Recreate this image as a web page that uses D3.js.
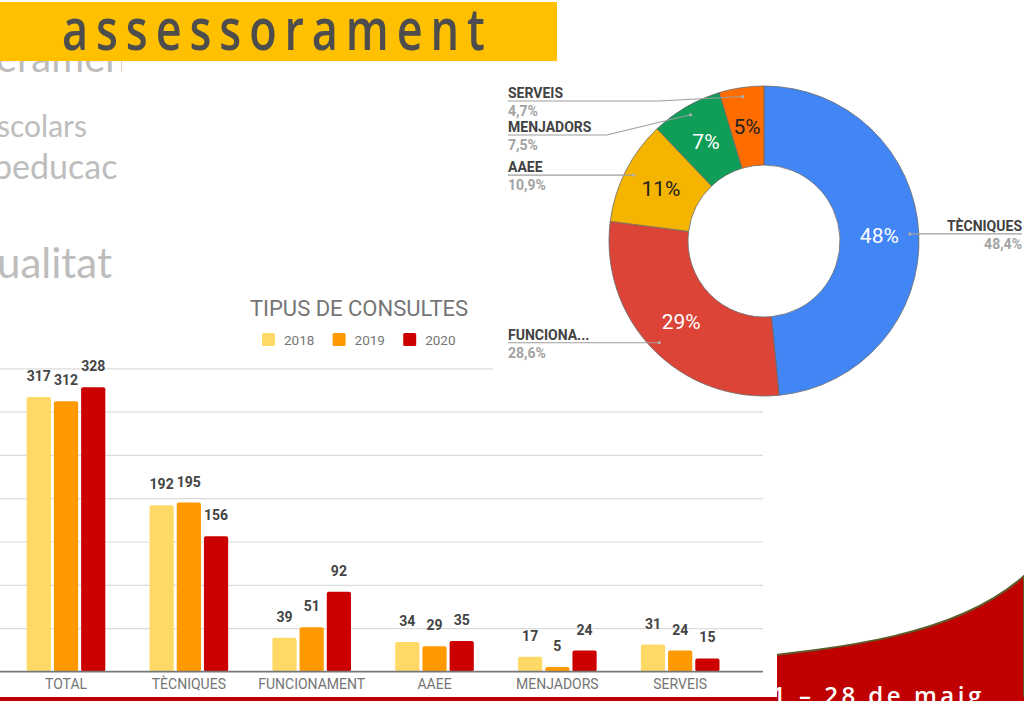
<!DOCTYPE html>
<html><head><meta charset="utf-8">
<script src="https://cdn.jsdelivr.net/npm/d3@7/dist/d3.min.js"></script>
<style>
html,body{margin:0;padding:0;background:#fff;overflow:hidden}
svg{display:block}
text{font-family:Roboto,"Noto Sans",sans-serif}
</style>
</head><body>
<svg id="c" width="1024" height="701"></svg>
<script>
// ---------------- data ----------------
const categories = ["TOTAL","TÈCNIQUES","FUNCIONAMENT","AAEE","MENJADORS","SERVEIS"];
const years = ["2018","2019","2020"];
const values2018 = [317,192,39,34,17,31];
const values2019 = [312,195,51,29,5,24];
const values2020 = [328,156,92,35,24,15];
const yTicks = [0,50,100,150,200,250,300,350];
const chartTitle = "TIPUS DE CONSULTES";
const slideTitle = "assessorament";
const fadedWords = ["erament","scolars","peducac","ualitat"];
const dateText = "1 – 28 de maig";
// pie: 2020 breakdown (all categories except TOTAL)
const pieCategories = categories.slice(1);
const pieValues = values2020.slice(1);

// ---------------- styles ----------------
const yearColors = ["#FFD966","#FF9900","#CC0000"];
const pieColors = ["#4285F4","#DB4437","#F4B400","#0F9D58","#FF6D01"];

const svg = d3.select("#c");
const defs = svg.append("defs");
defs.append("clipPath").attr("id","leftclip")
  .append("rect").attr("x",0).attr("y",0).attr("width",122).attr("height",300);

// ---------------- slide background pieces ----------------
const fadedLayout = [
  {x:-4, y:72, size:40},
  {x:-3, y:137, size:30},
  {x:-7, y:179, size:34},
  {x:-3, y:278, size:42}
];
const fg = svg.append("g").attr("clip-path","url(#leftclip)");
fg.selectAll("text").data(fadedWords).join("text")
  .attr("x",(d,i)=>fadedLayout[i].x).attr("y",(d,i)=>fadedLayout[i].y)
  .style("font-family","Lato, 'Open Sans', sans-serif")
  .style("font-size",(d,i)=>fadedLayout[i].size+"px")
  .attr("fill","#bdbdbd").text(d=>d);

// yellow banner
svg.append("rect").attr("x",0).attr("y",2).attr("width",557).attr("height",59).attr("fill","#FFC000");
svg.append("text")
  .attr("transform","translate(62,50) scale(0.79,1)")
  .style("font-family","'Open Sans', sans-serif").style("font-weight","600")
  .style("font-size","57px").style("letter-spacing","10px")
  .attr("fill","#4d4d4d").text(slideTitle);

// red wave bottom right
svg.append("path")
  .attr("d","M700,663 C820,650 950,642 1024,576 L1024,701 L700,701 Z")
  .attr("fill","#C00000").attr("stroke","#5f5a2a").attr("stroke-width",2);
svg.append("rect").attr("x",0).attr("y",697).attr("width",1024).attr("height",4).attr("fill","#C00000");
svg.append("text").attr("x",772).attr("y",704)
  .style("font-family","'Open Sans', sans-serif").style("font-size","24px").style("font-weight","600")
  .style("letter-spacing","3.5px").attr("fill","#ffffff").text(dateText);

// ---------------- bar chart ----------------
svg.append("rect").attr("x",0).attr("y",288).attr("width",777).attr("height",409).attr("fill","#fff");
const bar = svg.append("g");
const x0 = d3.scaleBand().domain(categories).range([4.6,741.6]).paddingInner(0.36).paddingOuter(0.18);
const x1 = d3.scaleBand().domain(years).range([0,x0.bandwidth()]).paddingInner(0.11);
const y = d3.scaleLinear().domain([0,350]).range([671.4,368.3]);

const grid = d3.axisLeft(y).tickValues(yTicks).tickSize(-763).tickFormat("");
const gg = bar.append("g").call(grid);
gg.select(".domain").remove();
gg.selectAll(".tick line").attr("stroke",(d)=>d===0?"#777":"#dcdcdc").attr("stroke-width",(d)=>d===0?1.3:1.2);

const series = [values2018, values2019, values2020];
const rows = categories.map((c,i)=>({cat:c, vals:years.map((yr,j)=>({year:yr, j, v:series[j][i]}))}));
const groups = bar.selectAll("g.grp").data(rows).join("g").attr("class","grp")
  .attr("transform",d=>`translate(${x0(d.cat)},0)`);
groups.selectAll("rect").data(d=>d.vals).join("rect")
  .attr("x",d=>x1(d.year)).attr("width",x1.bandwidth())
  .attr("y",d=>y(d.v)).attr("height",d=>y(0)-y(d.v))
  .attr("rx",2).attr("fill",d=>yearColors[d.j]);
groups.selectAll("text").data(d=>d.vals).join("text")
  .attr("x",d=>x1(d.year)+x1.bandwidth()/2).attr("y",d=>y(d.v)-16)
  .attr("text-anchor","middle").style("font-size","14px").style("font-weight","700")
  .attr("fill","#444").text(d=>d.v);
bar.append("line").attr("x1",0).attr("x2",763).attr("y1",y(0)).attr("y2",y(0)).attr("stroke","#777").attr("stroke-width",1.3);

const xAxis = d3.axisBottom(x0).tickSize(0).tickPadding(0);
const xa = bar.append("g").attr("transform",`translate(0,${y(0)})`).call(xAxis);
xa.select(".domain").remove();
xa.selectAll("text").attr("y",17.5).attr("dy",0).style("font-size","14px")
  .style("font-family","Roboto, sans-serif").attr("fill","#757575");

// title + legend
bar.append("text").attr("x",359).attr("y",316).attr("text-anchor","middle")
  .style("font-size","22px").attr("fill","#757575").text(chartTitle);
const leg = bar.selectAll("g.leg").data(years).join("g").attr("class","leg")
  .attr("transform",(d,i)=>`translate(${262+i*70.6},333)`);
leg.append("rect").attr("width",13).attr("height",13).attr("rx",1.5).attr("fill",(d,i)=>yearColors[i]);
leg.append("text").attr("x",22).attr("y",11.5).style("font-size","13.5px").attr("fill","#757575").text(d=>d);

// ---------------- donut chart ----------------
svg.append("rect").attr("x",493).attr("y",62).attr("width",531).attr("height",340).attr("fill","#fff");
const cx = 764, cy = 241, rOut = 155, rIn = 76;
const total = d3.sum(pieValues);
const pieData = pieCategories.map((c,i)=>({cat:c, v:pieValues[i], i, share:pieValues[i]/total*100}));
const arcs = d3.pie().sort(null).value(d=>d.v)(pieData);
const arc = d3.arc().innerRadius(rIn).outerRadius(rOut);
const dg = svg.append("g").attr("transform",`translate(${cx},${cy})`);
dg.selectAll("path").data(arcs).join("path").attr("d",arc)
  .attr("fill",d=>pieColors[d.data.i]).attr("stroke","#6a6a6a").attr("stroke-width",0.8);
dg.selectAll("text.in").data(arcs).join("text").attr("class","in")
  .attr("transform",d=>`translate(${arc.centroid(d)})`).attr("text-anchor","middle").attr("dy","0.36em")
  .style("font-size","21px")
  .attr("fill",d=>d3.lab(pieColors[d.data.i]).l>60?"#222":"#fff")
  .text(d=>Math.round(d.data.share)+"%");

const loc = d3.formatLocale({decimal:",",thousands:".",grouping:[3],currency:["","€"]});
const f1 = loc.format(".1f");
const dotR = rOut-9;
arcs.forEach(a=>{const m=(a.startAngle+a.endAngle)/2; a.dx=cx+dotR*Math.sin(m); a.dy=cy-dotR*Math.cos(m); a.right=Math.sin(m)>0;});
const left = arcs.filter(a=>!a.right).sort((a,b)=>a.dy-b.dy);
let prev = -Infinity;
left.forEach(a=>{ a.ly = Math.max(a.dy, 101, prev+34); prev=a.ly; });
arcs.filter(a=>a.right).forEach(a=>a.ly=a.dy);

const lg = svg.append("g");
const shortName = n => n.length>10 ? n.slice(0,8)+"..." : n;
arcs.forEach(a=>{
  let pts;
  if(a.right){ pts=[[a.dx,a.ly],[1022,a.ly]]; }
  else if(Math.abs(a.ly-a.dy)<0.5){ pts=[[508,a.ly],[a.dx,a.dy]]; }
  else { pts=[[508,a.ly],[a.dx-84,a.ly],[a.dx,a.dy]]; }
  lg.append("path").attr("d",d3.line()(pts)).attr("fill","none").attr("stroke","#9e9e9e").attr("stroke-width",1.1);
  lg.append("circle").attr("cx",a.dx).attr("cy",a.dy).attr("r",1.6).attr("fill","#b0b0b0");
  const tx = a.right?1022:508, anc = a.right?"end":"start";
  lg.append("text").attr("x",tx).attr("y",a.ly-3).attr("text-anchor",anc)
    .style("font-size","14px").style("font-weight","700").attr("fill","#424242").text(shortName(a.data.cat));
  lg.append("text").attr("x",tx).attr("y",a.ly+15).attr("text-anchor",anc)
    .style("font-size","14px").style("font-weight","700").attr("fill","#a3a3a3").text(f1(a.data.share)+"%");
});
</script>
</body></html>
